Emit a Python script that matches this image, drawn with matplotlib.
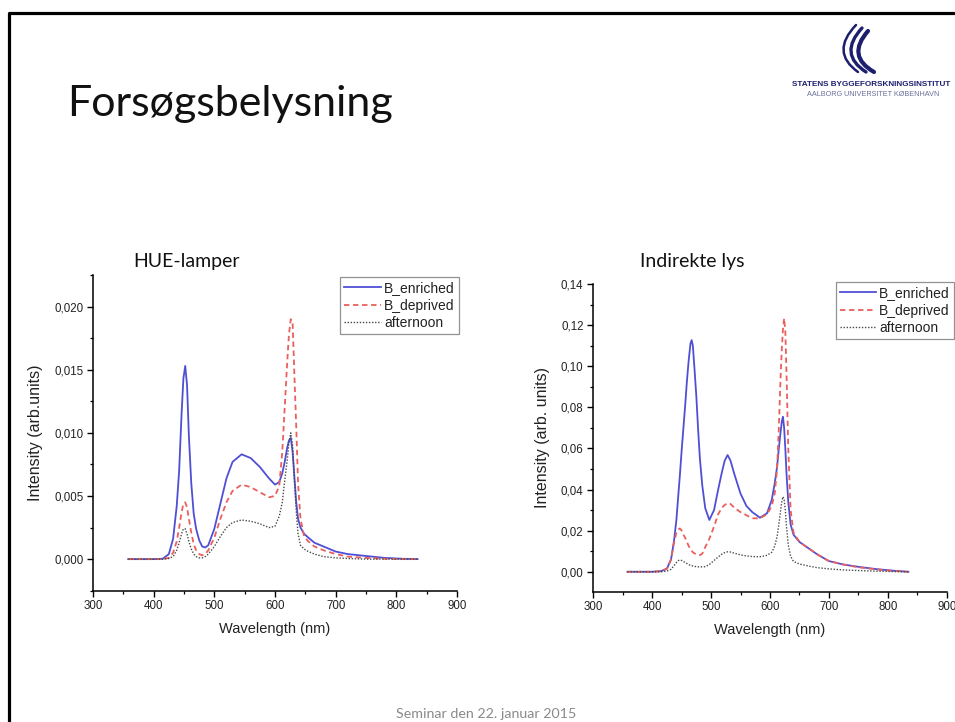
import matplotlib
matplotlib.use("Agg")
import matplotlib.pyplot as plt
from matplotlib.ticker import MultipleLocator, FuncFormatter
from matplotlib.path import Path
from matplotlib.patches import PathPatch

# HUE-lamper (left panel)
hue_wl = [358, 380, 400, 415, 425, 432, 438, 442, 446, 449, 452, 455, 458, 462, 466, 470,
          475, 480, 485, 490, 500, 510, 520, 530, 545, 560, 575, 590, 600, 607, 612, 616,
          620, 623, 626, 629, 632, 635, 638, 642, 648, 655, 665, 680, 700, 720, 750, 780, 810, 835]
hue_enriched = [0, 0, 0, 0.00003, 0.0004, 0.0016, 0.0042, 0.0070, 0.0115, 0.0143, 0.0153, 0.0138,
                0.0098, 0.0060, 0.0036, 0.0024, 0.0015, 0.0010, 0.00092, 0.0011, 0.0024, 0.0044,
                0.0064, 0.0077, 0.0083, 0.0080, 0.0073, 0.0064, 0.0059, 0.0061, 0.0068, 0.0077,
                0.0088, 0.0094, 0.0096, 0.0085, 0.0065, 0.0045, 0.0032, 0.0025, 0.0020, 0.0017,
                0.0013, 0.0010, 0.0006, 0.0004, 0.00025, 0.0001, 0.00003, 0]
hue_deprived = [0, 0, 0, 0, 0.0001, 0.0005, 0.0014, 0.0025, 0.0037, 0.0044, 0.0045, 0.0041,
                0.0032, 0.0021, 0.0012, 0.0007, 0.0004, 0.0003, 0.0004, 0.0007, 0.0017, 0.0032,
                0.0045, 0.0054, 0.0059, 0.0057, 0.0053, 0.0049, 0.0050, 0.0058, 0.0085, 0.0120,
                0.0155, 0.0178, 0.0190, 0.0188, 0.0145, 0.0105, 0.0060, 0.0032, 0.0018, 0.0014,
                0.0010, 0.0007, 0.0004, 0.0002, 0.0001, 0.00003, 0, 0]
hue_afternoon = [0, 0, 0, 0, 0.00005, 0.0002, 0.0007, 0.0013, 0.0020, 0.0024, 0.0024, 0.0020,
                 0.0014, 0.0008, 0.0004, 0.0002, 0.0001, 0.0001, 0.0002, 0.0004, 0.0010, 0.0018,
                 0.0025, 0.0029, 0.0031, 0.0030, 0.0028, 0.0025, 0.0026, 0.0034, 0.0045, 0.0062,
                 0.0078, 0.0092, 0.0100, 0.0090, 0.0062, 0.0038, 0.0020, 0.0011, 0.0008, 0.0006,
                 0.0004, 0.0002, 0.0001, 0.00005, 0, 0, 0, 0]

# Indirekte lys (right panel)
ind_wl = [358, 380, 400, 415, 425, 432, 437, 441, 444, 447, 450, 453, 456, 459, 462, 465, 467,
          469, 472, 475, 478, 481, 485, 490, 497, 505, 512, 518, 523, 528, 533, 540, 550, 560,
          570, 583, 595, 603, 608, 612, 615, 618, 620, 622, 624, 626, 628, 631, 635, 640, 650,
          665, 680, 700, 725, 750, 780, 810, 835]
ind_enriched = [0, 0, 0, 0.0003, 0.0015, 0.006, 0.015, 0.025, 0.036, 0.047, 0.059, 0.070, 0.081,
                0.093, 0.103, 0.111, 0.1127, 0.110, 0.098, 0.085, 0.069, 0.055, 0.042, 0.031,
                0.0252, 0.030, 0.040, 0.048, 0.054, 0.0568, 0.054, 0.047, 0.038, 0.032, 0.029,
                0.0263, 0.0285, 0.035, 0.043, 0.051, 0.060, 0.068, 0.073, 0.0754, 0.070, 0.060,
                0.048, 0.034, 0.023, 0.018, 0.0145, 0.0115, 0.0085, 0.0052, 0.0035, 0.0024,
                0.0013, 0.0005, 0]
ind_deprived = [0, 0, 0, 0.0003, 0.0015, 0.006, 0.014, 0.019, 0.0205, 0.0211, 0.020, 0.018,
                0.0165, 0.0145, 0.0125, 0.011, 0.0102, 0.0095, 0.0089, 0.0084, 0.0082, 0.0081,
                0.0088, 0.012, 0.016, 0.022, 0.028, 0.031, 0.0325, 0.0333, 0.0330, 0.031, 0.029,
                0.0275, 0.026, 0.026, 0.028, 0.032, 0.038, 0.050, 0.070, 0.095, 0.108, 0.118,
                0.1233, 0.117, 0.097, 0.060, 0.030, 0.019, 0.0145, 0.0115, 0.0085, 0.0052,
                0.0035, 0.0022, 0.0012, 0.0004, 0]
ind_afternoon = [0, 0, 0, 0, 0.0003, 0.0012, 0.003, 0.0045, 0.0054, 0.0057, 0.0055, 0.0050,
                 0.0045, 0.0040, 0.0035, 0.0031, 0.0029, 0.0028, 0.0026, 0.0025, 0.0024, 0.0024,
                 0.0024, 0.0025, 0.0035, 0.0055, 0.0072, 0.0085, 0.0093, 0.0097, 0.0096, 0.0090,
                 0.0082, 0.0077, 0.0074, 0.0073, 0.0080, 0.0095, 0.0125, 0.017, 0.023, 0.030,
                 0.034, 0.0365, 0.035, 0.030, 0.022, 0.013, 0.0075, 0.005, 0.0038, 0.0028,
                 0.0020, 0.0014, 0.0009, 0.0006, 0.0003, 0.0001, 0]

series_labels = ["B_enriched", "B_deprived", "afternoon"]

SANS = ["Liberation Sans", "DejaVu Sans"]
SLIDE = ["Lato", "DejaVu Sans"]

def comma_fmt(decimals):
	return FuncFormatter(lambda v, pos: f"{v:.{decimals}f}".replace(".", ","))

def draw_panel(ax, wl, enriched, deprived, afternoon, ylim, ymajor, yminor, decimals, ylabel, legend_anchor):
	ax.plot(wl, enriched, color="#4f4fd6", lw=1.3, label=series_labels[0])
	ax.plot(wl, deprived, color="#e9605c", lw=1.3, ls=(0, (3, 2)), label=series_labels[1])
	ax.plot(wl, afternoon, color="#4a4a4a", lw=1.0, ls=(0, (1, 1.2)), label=series_labels[2])
	ax.set_xlim(300, 900)
	ax.set_ylim(*ylim)
	ax.xaxis.set_major_locator(MultipleLocator(100))
	ax.xaxis.set_minor_locator(MultipleLocator(50))
	ax.yaxis.set_major_locator(MultipleLocator(ymajor))
	ax.yaxis.set_minor_locator(MultipleLocator(yminor))
	ax.yaxis.set_major_formatter(comma_fmt(decimals))
	for side in ("top", "right"):
		ax.spines[side].set_visible(False)
	for side in ("left", "bottom"):
		ax.spines[side].set_linewidth(1.1)
	ax.tick_params(which="major", direction="out", length=4, width=1.0, pad=3)
	ax.tick_params(which="minor", direction="out", length=2.5, width=0.9)
	for lbl in ax.get_xticklabels() + ax.get_yticklabels():
		lbl.set_family(SANS)
		lbl.set_fontsize(8.3)
		lbl.set_color("#222222")
	ax.set_xlabel("Wavelength (nm)", family=SANS, fontsize=10.5, color="#222222", labelpad=7)
	ax.set_ylabel(ylabel, family=SANS, fontsize=11.5, color="#222222", labelpad=8)
	leg = ax.legend(loc="upper right", bbox_to_anchor=legend_anchor, frameon=True, fancybox=False,
		prop={"family": SANS, "size": 10}, handlelength=2.6, handletextpad=0.25,
		labelspacing=0.25, borderpad=0.3, borderaxespad=0)
	leg.get_frame().set_edgecolor("#777777")
	leg.get_frame().set_linewidth(0.9)
	for t in leg.get_texts():
		t.set_color("#222222")

fig = plt.figure(figsize=(9.55, 7.22), dpi=100)

# slide decoration layer in pixel coordinates
deco = fig.add_axes([0, 0, 1, 1])
deco.set_xlim(0, 955)
deco.set_ylim(722, 0)
deco.axis("off")
deco.plot([9, 9, 955], [722, 13, 13], color="black", lw=2.3, solid_capstyle="butt")

deco.text(67, 104, "Forsøgsbelysning", family=SLIDE, fontsize=31, color="#111111", ha="left", va="center")
deco.text(133, 262, "HUE-lamper", family=SLIDE, fontsize=14, color="#111111", ha="left", va="center")
deco.text(640, 262, "Indirekte lys", family=SLIDE, fontsize=14, color="#111111", ha="left", va="center")
deco.text(486, 714, "Seminar den 22. januar 2015", family=SLIDE, fontsize=10.3, color="#8a8a8a", ha="center", va="center")

# logo: three swept strands
navy = "#1d1f6e"
strands = [
	[(856, 25), (830, 52), (858, 72)],
	[(862, 28), (838, 54), (866, 72)],
	[(868, 31), (846, 56), (874, 72)],
]
for i, pts in enumerate(strands):
	p = Path(pts, [Path.MOVETO, Path.CURVE3, Path.CURVE3])
	deco.add_patch(PathPatch(p, facecolor="none", edgecolor=navy, lw=1.8 + 0.6 * i, capstyle="round"))
deco.text(871, 84, "STATENS BYGGEFORSKNINGSINSTITUT", family=SANS, fontsize=5.9, weight="bold",
	color=navy, ha="center", va="center")
deco.text(873, 94, "AALBORG UNIVERSITET KØBENHAVN", family=SANS, fontsize=5.2, color="#6a6f9a",
	ha="center", va="center")

ax1 = fig.add_axes([93 / 955, (722 - 590.7) / 722, 364 / 955, 315.7 / 722])
draw_panel(ax1, hue_wl, hue_enriched, hue_deprived, hue_afternoon, (-0.0025, 0.0225),
	0.005, 0.0025, 3, "Intensity (arb.units)", (1.005, 0.994))

ax2 = fig.add_axes([593.3 / 955, (722 - 591.7) / 722, 353.4 / 955, 307.7 / 722])
draw_panel(ax2, ind_wl, ind_enriched, ind_deprived, ind_afternoon, (-0.0097, 0.14),
	0.02, 0.01, 2, "Intensity (arb. units)", (1.021, 1.006))

fig.savefig("out.png", dpi=100)
